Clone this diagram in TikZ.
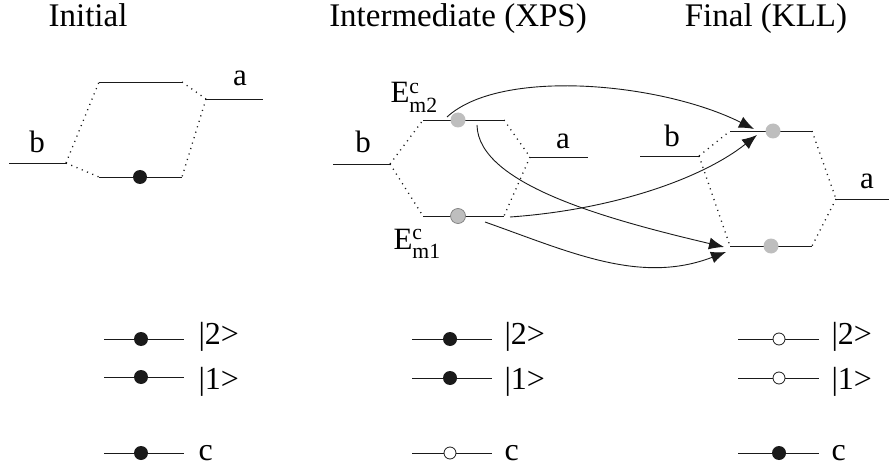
\documentclass[tikz,border=0pt]{standalone}
\usepackage{amsmath}
\usepackage{fontspec}
\setmainfont{Liberation Serif}
\usepackage{tikz}
\usetikzlibrary{arrows.meta}
\definecolor{Ink}{HTML}{1A1A1A}
\definecolor{Dot}{HTML}{BEBEBE}
\definecolor{DotRim}{HTML}{7F7F7F}

\begin{document}
\begin{tikzpicture}[x=1pt, y=-1pt,
    level/.style={line width=0.8pt, Ink},
    mix/.style={line width=1.3pt, Ink, dash pattern=on 1.1pt off 4.6pt},
    filled/.style={circle, fill=Ink, inner sep=0pt, minimum size=14pt},
    hole/.style={circle, draw=Ink, fill=white, line width=0.8pt, inner sep=0pt, minimum size=12pt},
    grey/.style={circle, fill=Dot, inner sep=0pt, minimum size=15pt},
    jump/.style={-{Latex[length=15pt, width=12pt]}, line width=0.9pt, Ink},
    lbl/.style={font=\fontsize{31}{36}\selectfont, anchor=base},
    ttl/.style={font=\fontsize{33}{40}\selectfont, anchor=base},
    st/.style={font=\fontsize{32}{36}\selectfont, anchor=base west}]

  \useasboundingbox (0,0) rectangle (889,468);

  % titles
  \node[ttl] (tinit) at (88,27) {Initial};
  \node[ttl] (tinter) at (458,27) {Intermediate (XPS)};
  \node[ttl] (tfinal) at (766,27) {Final (KLL)};

  % initial state
  \coordinate (ib1) at (9,163);   \coordinate (ib2) at (66,163);
  \coordinate (iu1) at (99,82);   \coordinate (iu2) at (182,82);
  \coordinate (il1) at (99,177);  \coordinate (il2) at (182,177);
  \coordinate (ia1) at (206,99);  \coordinate (ia2) at (263,99);
  \draw[level] (ib1) -- (ib2);
  \draw[level] (iu1) -- (iu2);
  \draw[level] (il1) -- (il2);
  \draw[level] (ia1) -- (ia2);
  \draw[mix] (ib2) -- (iu1);
  \draw[mix] (ib2) -- (il1);
  \draw[mix] (iu2) -- (ia1);
  \draw[mix] (ia1) -- (il2);
  \node[filled] (iel) at (140,177) {};
  \node[lbl] (ibl) at (37,153) {b};
  \node[lbl] (ial) at (240,86) {a};

  % intermediate state
  \coordinate (xb1) at (333,164); \coordinate (xb2) at (390,164);
  \coordinate (xu1) at (423,120); \coordinate (xu2) at (504,120);
  \coordinate (xl1) at (423,216); \coordinate (xl2) at (504,216);
  \coordinate (xa1) at (530,157); \coordinate (xa2) at (588,157);
  \draw[level] (xb1) -- (xb2);
  \draw[level] (xu1) -- (xu2);
  \draw[level] (xl1) -- (xl2);
  \draw[level] (xa1) -- (xa2);
  \draw[mix] (xb2) -- (xu1);
  \draw[mix] (xb2) -- (xl1);
  \draw[mix] (xu2) -- (xa1);
  \draw[mix] (xa1) -- (xl2);
  \node[grey] (xup) at (458,120) {};
  \node[grey, draw=DotRim, line width=0.7pt] (xlo) at (458,216) {};
  \node[lbl] (xbl) at (363,153) {b};
  \node[lbl] (xal) at (563,149) {a};
  \node[lbl, anchor=base west] (em2) at (387,103) {E$^{\text{c}}_{\text{m2}}$};
  \node[lbl, anchor=base west] (em1) at (390,249) {E$^{\text{c}}_{\text{m1}}$};

  % final state
  \coordinate (fb1) at (640,156); \coordinate (fb2) at (699,156);
  \coordinate (fu1) at (730,131); \coordinate (fu2) at (812,131);
  \coordinate (fl1) at (730,246); \coordinate (fl2) at (812,246);
  \coordinate (fa1) at (836,199); \coordinate (fa2) at (889,199);
  \draw[level] (fb1) -- (fb2);
  \draw[level] (fu1) -- (fu2);
  \draw[level] (fl1) -- (fl2);
  \draw[level] (fa1) -- (fa2);
  \draw[mix] (fb2) -- (fu1);
  \draw[mix] (fb2) -- (fl1);
  \draw[mix] (fu2) -- (fa1);
  \draw[mix] (fa1) -- (fl2);
  \node[grey] (fup) at (773,131) {};
  \node[grey] (flo) at (771,246) {};
  \node[lbl] (fbl) at (672,147) {b};
  \node[lbl] (fal) at (867,188) {a};

  % transitions
  \coordinate (s1) at (447,117);  \coordinate (e1) at (754,129);
  \coordinate (s2) at (477,125);  \coordinate (e2) at (724,247);
  \coordinate (s3) at (510,217);  \coordinate (e3) at (757,135);
  \coordinate (s4) at (485,222);  \coordinate (e4) at (726,252);
  \draw[jump] (s1) .. controls (500,68) and (660,82) .. (e1);
  \draw[jump] (s2) .. controls (478,185) and (610,220) .. (e2);
  \draw[jump] (s3) .. controls (610,210) and (700,180) .. (e3);
  \draw[jump] (s4) .. controls (570,252) and (640,285) .. (e4);

  % occupation: initial
  \draw[level] (104,339) -- (184,339);
  \draw[level] (104,377) -- (184,377);
  \draw[level] (104,453) -- (184,453);
  \node[filled] (i2) at (141,339) {};
  \node[filled] (i1) at (141,377) {};
  \node[filled] (ic) at (141,453) {};
  \node[st] (i2l) at (195,344) {|2>};
  \node[st] (i1l) at (195,389) {|1>};
  \node[st] (icl) at (195,460) {c};

  % occupation: intermediate
  \draw[level] (412,339) -- (492,339);
  \draw[level] (412,378) -- (492,378);
  \draw[level] (412,453) -- (492,453);
  \node[filled] (x2) at (450,339) {};
  \node[filled] (x1) at (450,378) {};
  \node[hole] (xc) at (450,453) {};
  \node[st] (x2l) at (501,344) {|2>};
  \node[st] (x1l) at (501,389) {|1>};
  \node[st] (xcl) at (501,460) {c};

  % occupation: final
  \draw[level] (738,339) -- (819,339);
  \draw[level] (738,378) -- (819,378);
  \draw[level] (738,453) -- (819,453);
  \node[hole] (f2) at (779,339) {};
  \node[hole] (f1) at (779,378) {};
  \node[filled] (fc) at (779,453) {};
  \node[st] (f2l) at (828,344) {|2>};
  \node[st] (f1l) at (828,389) {|1>};
  \node[st] (fcl) at (828,460) {c};
\end{tikzpicture}
\end{document}
